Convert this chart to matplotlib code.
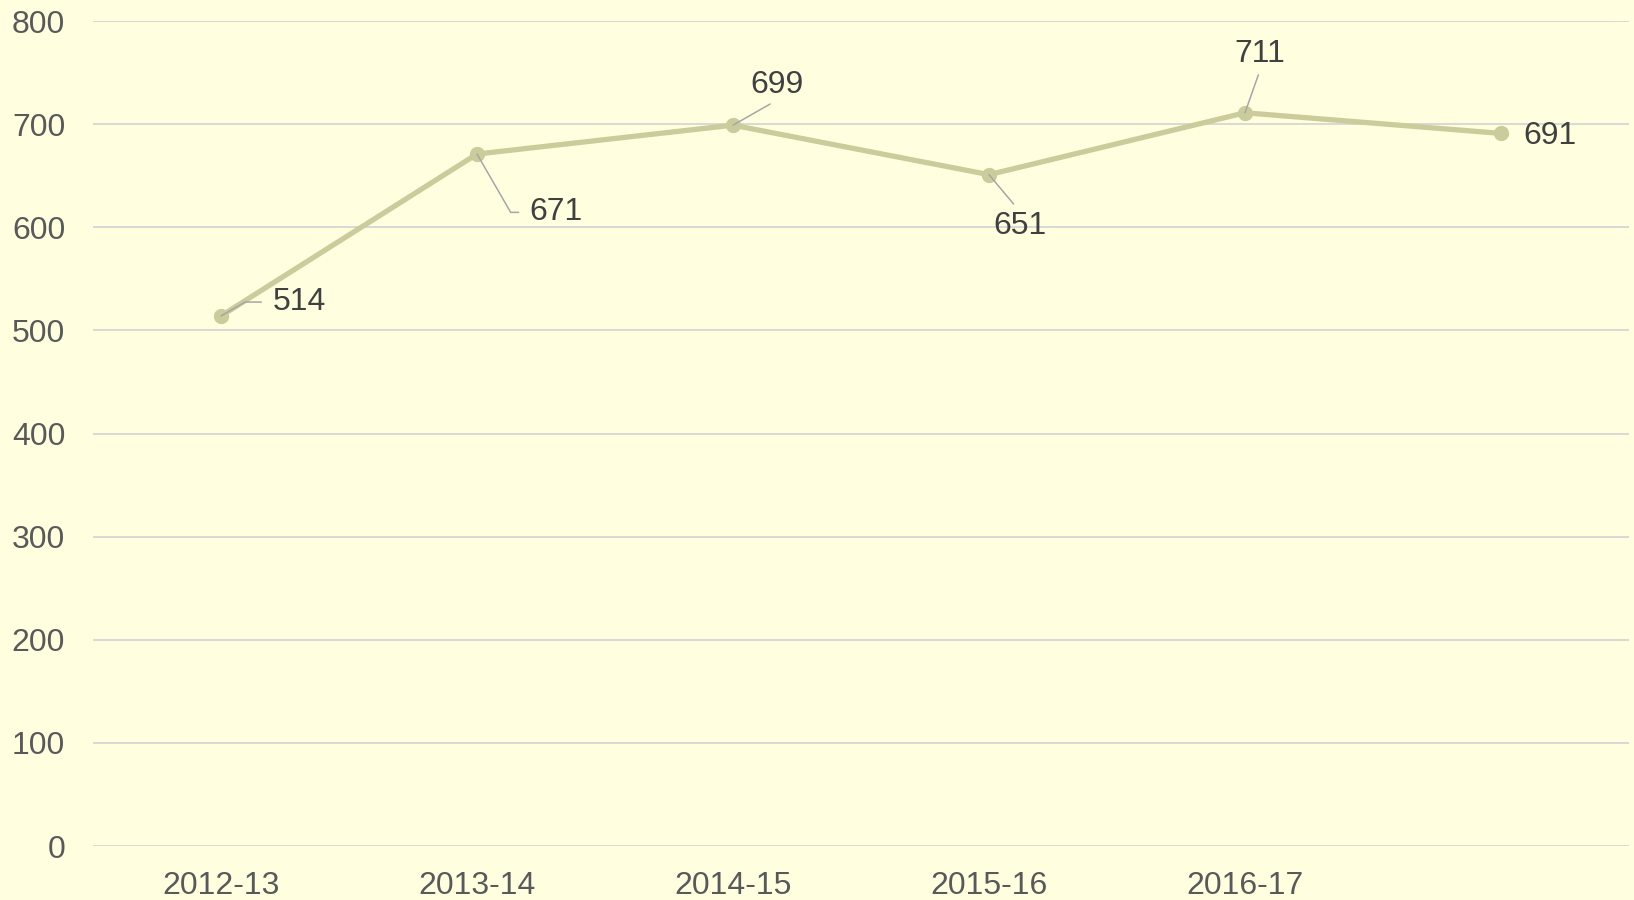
import matplotlib.pyplot as plt

plt.rcParams["font.family"] = ["Liberation Sans", "DejaVu Sans"]

years = ["2012-13", "2013-14", "2014-15", "2015-16", "2016-17", ""]
values = [514, 671, 699, 651, 711, 691]

# label placement: (dx, dy) in points, ha, leader style
label_offsets = [(37, 10), (38, -42), (32, 29), (22, -37), (11, 42), (16, -2)]
label_align = ["left", "left", "center", "center", "center", "left"]
leaders = ["elbow30", "elbow-60", "below", "above", "below", None]

BG = "#FFFFE0"
LINE = "#CBCC9B"

fig = plt.figure(figsize=(16.34, 9.0), dpi=100, facecolor=BG)
ax = fig.add_axes([93 / 1634, 54 / 900, 1536 / 1634, 825 / 900])
ax.set_facecolor(BG)

x = list(range(len(years)))
ax.plot(x, values, color=LINE, linewidth=3.8, marker="o", markersize=10,
        solid_joinstyle="round", zorder=3)

ax.set_xlim(-0.5, len(years) - 0.5)
ax.set_ylim(0, 800)
ax.set_yticks(range(0, 801, 100))
ax.set_xticks(x)
ax.set_xticklabels(years)
ax.grid(axis="y", color="#D6D6D6", linewidth=1.3)
ax.set_axisbelow(True)
for s in ax.spines.values():
    s.set_visible(False)
ax.tick_params(axis="y", length=0, pad=20, labelsize=23, labelcolor="#595959")
ax.tick_params(axis="x", length=0, pad=18, labelsize=23, labelcolor="#595959")

for xi, v, off, ha, ld in zip(x, values, label_offsets, label_align, leaders):
    arrow = None
    if ld == "elbow30":
        arrow = dict(arrowstyle="-", color="#A6A6A6", lw=1.1, relpos=(0, 0.5),
                     shrinkA=6, shrinkB=0,
                     connectionstyle="angle,angleA=0,angleB=30,rad=0")
    elif ld == "elbow-60":
        arrow = dict(arrowstyle="-", color="#A6A6A6", lw=1.1, relpos=(0, 0.5),
                     shrinkA=6, shrinkB=0,
                     connectionstyle="angle,angleA=0,angleB=-60,rad=0")
    elif ld == "below":
        arrow = dict(arrowstyle="-", color="#A6A6A6", lw=1.1, relpos=(0.5, 0),
                     shrinkA=2, shrinkB=0)
    elif ld == "above":
        arrow = dict(arrowstyle="-", color="#A6A6A6", lw=1.1, relpos=(0.5, 1),
                     shrinkA=4, shrinkB=0)
    ax.annotate(str(v), xy=(xi, v), xytext=off, textcoords="offset points",
                ha=ha, va="center", fontsize=23, color="#404040",
                arrowprops=arrow, zorder=4)

fig.savefig("out.png", dpi=100, facecolor=BG)
